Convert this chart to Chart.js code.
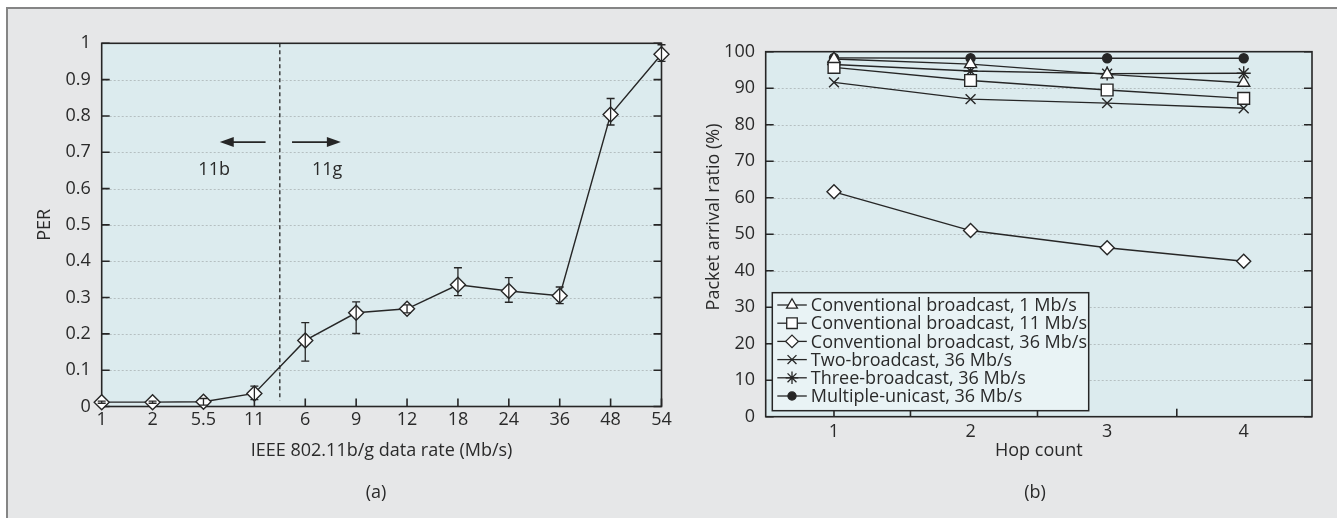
<!DOCTYPE html>
<html>
<head>
<meta charset="utf-8">
<script src="https://cdn.jsdelivr.net/npm/chart.js@4.4.0/dist/chart.umd.min.js"></script>
<style>
  html, body { margin: 0; padding: 0; background: #fff; }
  body { width: 1337px; height: 518px; position: relative; overflow: hidden; font-family: 'Open Sans', sans-serif; }
  .panel { position: absolute; left: 6px; top: 7px; right: 0; bottom: 0; background: #e6e7e8;
           border-top: 2px solid #858585; border-left: 2px solid #858585; }
  canvas { position: absolute; top: 0; }
  #perChart { left: 0; width: 700px; height: 518px; }
  #arrivalChart { left: 680px; width: 657px; height: 518px; }
  .caption { position: absolute; top: 480px; font-size: 18px; line-height: 23px; color: #2a2a2a; transform: translateX(-50%); }
</style>
</head>
<body>
<div class="panel"></div>
<canvas id="perChart" width="700" height="518"></canvas>
<canvas id="arrivalChart" width="657" height="518"></canvas>
<div class="caption" style="left:376px">(a)</div>
<div class="caption" style="left:1035px">(b)</div>
<script>
// ---- (a) PER vs data rate ----
const rateLabels = ['1', '2', '5.5', '11', '6', '9', '12', '18', '24', '36', '48', '54'];
const perValues = [0.012, 0.012, 0.013, 0.036, 0.182, 0.258, 0.269, 0.335, 0.318, 0.305, 0.804, 0.970];
const perLow    = [0.009, 0.009, 0.004, 0.019, 0.125, 0.201, 0.258, 0.305, 0.287, 0.283, 0.775, 0.950];
const perHigh   = [0.015, 0.015, 0.022, 0.056, 0.231, 0.288, 0.280, 0.382, 0.355, 0.329, 0.848, 0.996];

// divider between the 11b and 11g rates, arrows and their labels (data coords)
const splitAt = 3.5;
const arrowY = 0.728;
const arrow11b = [3.22, 2.32];
const arrow11g = [3.74, 4.70];
const noteY = 0.651;
const notes = [['11b', 2.21], ['11g', 4.43]];

// ---- (b) packet arrival ratio vs hop count ----
const hopCounts = [1, 2, 3, 4];
const hopLabels = ['1', '2', '3', '4'];
const conv1Mb   = [98.0, 96.6, 93.8, 91.5];
const conv11Mb  = [95.7, 92.1, 89.5, 87.2];
const conv36Mb  = [61.6, 51.0, 46.3, 42.6];
const twoBcast  = [91.6, 87.0, 85.9, 84.5];
const threeBcast = [96.5, 94.7, 94.0, 94.1];
const multiUni  = [98.3, 98.2, 98.2, 98.2];
const hopTickMarks = [1, 1.56, 2.49, 3.51];

const INK = '#262626';
const TEXT = '#2a2a2a';
const PLOT_BG = '#dcebee';
const LEGEND_BG = '#e9f3f5';
const GRID = '#b5bfc1';
const FONT = "18px 'Open Sans', sans-serif";

Chart.defaults.font.family = "'Open Sans', sans-serif";
Chart.defaults.font.size = 18;
Chart.defaults.color = TEXT;

const plotFrame = {
  id: 'plotFrame',
  beforeDraw(chart) {
    const { ctx, chartArea: a } = chart;
    ctx.save();
    ctx.fillStyle = PLOT_BG;
    ctx.fillRect(a.left, a.top, a.right - a.left, a.bottom - a.top);
    ctx.restore();
  },
  beforeDatasetsDraw(chart, args, opts) {
    const { ctx, chartArea: a, scales: { x, y } } = chart;
    ctx.save();
    ctx.strokeStyle = GRID;
    ctx.lineWidth = 1;
    ctx.setLineDash([2, 2]);
    y.ticks.forEach((t, i) => {
      if (i === 0 || i === y.ticks.length - 1) return;
      const py = Math.round(y.getPixelForValue(t.value)) + 0.5;
      ctx.beginPath();
      ctx.moveTo(a.left, py);
      ctx.lineTo(a.right, py);
      ctx.stroke();
    });
    ctx.setLineDash([]);
    ctx.strokeStyle = INK;
    ctx.lineWidth = 1.6;
    const len = 8;
    y.ticks.forEach(t => {
      const py = y.getPixelForValue(t.value);
      ctx.beginPath();
      ctx.moveTo(a.left, py); ctx.lineTo(a.left + len, py);
      ctx.moveTo(a.right, py); ctx.lineTo(a.right - len, py);
      ctx.stroke();
    });
    const marks = opts.xMarks ? opts.xMarks : x.ticks.map(t => t.value);
    marks.forEach(v => {
      const px = x.getPixelForValue(v);
      ctx.beginPath();
      ctx.moveTo(px, a.bottom);
      ctx.lineTo(px, a.bottom - len);
      ctx.stroke();
    });
    ctx.strokeRect(a.left, a.top, a.right - a.left, a.bottom - a.top);
    ctx.restore();
  }
};

function arrow(ctx, x1, x2, y) {
  const dir = Math.sign(x2 - x1);
  ctx.beginPath();
  ctx.moveTo(x1, y);
  ctx.lineTo(x2 - dir * 12, y);
  ctx.stroke();
  ctx.beginPath();
  ctx.moveTo(x2, y);
  ctx.lineTo(x2 - dir * 14, y - 5);
  ctx.lineTo(x2 - dir * 14, y + 5);
  ctx.closePath();
  ctx.fill();
}

const rateNotes = {
  id: 'rateNotes',
  beforeDatasetsDraw(chart) {
    const { ctx, chartArea: a, scales: { x, y } } = chart;
    ctx.save();
    ctx.strokeStyle = INK;
    ctx.fillStyle = INK;
    ctx.lineWidth = 1.3;
    ctx.setLineDash([4, 3]);
    const sx = x.getPixelForValue(splitAt);
    ctx.beginPath();
    ctx.moveTo(sx, a.top);
    ctx.lineTo(sx, a.bottom - 6);
    ctx.stroke();
    ctx.setLineDash([]);
    ctx.lineWidth = 1.6;
    const ay = y.getPixelForValue(arrowY);
    arrow(ctx, x.getPixelForValue(arrow11b[0]), x.getPixelForValue(arrow11b[1]), ay);
    arrow(ctx, x.getPixelForValue(arrow11g[0]), x.getPixelForValue(arrow11g[1]), ay);
    ctx.fillStyle = TEXT;
    ctx.font = FONT;
    ctx.textAlign = 'center';
    ctx.textBaseline = 'middle';
    notes.forEach(([t, v]) => ctx.fillText(t, x.getPixelForValue(v), y.getPixelForValue(noteY)));
    ctx.restore();
  },
  afterDatasetsDraw(chart) {
    const { ctx, scales: { x, y } } = chart;
    ctx.save();
    ctx.strokeStyle = INK;
    ctx.lineWidth = 1.3;
    perValues.forEach((v, i) => {
      const px = x.getPixelForValue(i);
      const lo = y.getPixelForValue(perLow[i]);
      const hi = y.getPixelForValue(perHigh[i]);
      ctx.beginPath();
      ctx.moveTo(px, lo); ctx.lineTo(px, hi);
      ctx.moveTo(px - 4, lo); ctx.lineTo(px + 4, lo);
      ctx.moveTo(px - 4, hi); ctx.lineTo(px + 4, hi);
      ctx.stroke();
    });
    ctx.restore();
  }
};

new Chart(document.getElementById('perChart'), {
  type: 'line',
  data: {
    labels: rateLabels,
    datasets: [{
      data: perValues,
      borderColor: INK,
      borderWidth: 1.4,
      pointStyle: 'rectRot',
      pointRadius: 7.5,
      pointBackgroundColor: '#fff',
      pointBorderColor: INK,
      pointBorderWidth: 1.4,
      tension: 0,
      clip: false
    }]
  },
  options: {
    responsive: false,
    animation: false,
    devicePixelRatio: 1,
    layout: { padding: { left: 0, top: 43.3, right: 38.5, bottom: 0 } },
    plugins: { legend: { display: false }, tooltip: { enabled: false }, plotFrame: {} },
    scales: {
      x: {
        type: 'category',
        offset: false,
        grid: { display: false, drawTicks: false },
        border: { display: false },
        ticks: { padding: 2.7, maxRotation: 0, autoSkip: false },
        title: { display: true, text: 'IEEE 802.11b/g data rate (Mb/s)', padding: { top: 0, bottom: 56.5 } },
        afterFit: s => { s.height = 111.5; }
      },
      y: {
        min: 0,
        max: 1,
        grid: { display: false, drawTicks: false },
        border: { display: false },
        ticks: { stepSize: 0.1, padding: 11, callback: v => (v === 0 || v === 1) ? String(v) : v.toFixed(1) },
        title: { display: true, text: 'PER', padding: { top: 34.2, bottom: 0 } },
        afterFit: s => { s.width = 101.7; }
      }
    }
  },
  plugins: [plotFrame, rateNotes]
});

// ---- (b) ----
const arrivalSeries = [
  { label: 'Conventional broadcast, 1 Mb/s', values: conv1Mb, style: 'triangle', r: 7, fill: '#fff' },
  { label: 'Conventional broadcast, 11 Mb/s', values: conv11Mb, style: 'rect', r: 8.3, fill: '#fff' },
  { label: 'Conventional broadcast, 36 Mb/s', values: conv36Mb, style: 'rectRot', r: 7, fill: '#fff' },
  { label: 'Two-broadcast, 36 Mb/s', values: twoBcast, style: 'crossRot', r: 7, fill: '#fff' },
  { label: 'Three-broadcast, 36 Mb/s', values: threeBcast, style: 'star', r: 7, fill: '#fff' },
  { label: 'Multiple-unicast, 36 Mb/s', values: multiUni, style: 'circle', r: 4.5, fill: INK }
];

function drawMarker(ctx, style, r, x, y) {
  if (Chart.helpers && Chart.helpers.drawPoint) {
    Chart.helpers.drawPoint(ctx, { pointStyle: style, radius: r, rotation: 0, borderWidth: 1.3 }, x, y);
  } else {
    ctx.beginPath(); ctx.arc(x, y, r, 0, Math.PI * 2); ctx.fill(); ctx.stroke();
  }
}

const arrivalExtras = {
  id: 'arrivalExtras',
  afterDraw(chart) {
    const { ctx, chartArea: a } = chart;
    ctx.save();
    // y title, placed as in the figure (above the plot's mid height)
    ctx.fillStyle = TEXT;
    ctx.font = FONT;
    ctx.textAlign = 'center';
    ctx.textBaseline = 'middle';
    ctx.translate(34, 217);
    ctx.rotate(-Math.PI / 2);
    ctx.fillText('Packet arrival ratio (%)', 0, 0);
    ctx.restore();

    // legend box with line + marker samples
    const bx = a.left + 6.6, bw = 316.4, bh = 118;
    const by = a.bottom - 6 - bh;
    ctx.save();
    ctx.fillStyle = LEGEND_BG;
    ctx.fillRect(bx, by, bw, bh);
    ctx.strokeStyle = INK;
    ctx.lineWidth = 1.5;
    ctx.strokeRect(bx, by, bw, bh);
    ctx.font = FONT;
    ctx.textBaseline = 'middle';
    ctx.textAlign = 'left';
    arrivalSeries.forEach((s, i) => {
      const ry = by + 12.3 + i * 18.2;
      ctx.strokeStyle = INK;
      ctx.lineWidth = 1.3;
      ctx.beginPath();
      ctx.moveTo(bx + 5, ry);
      ctx.lineTo(bx + 34.5, ry);
      ctx.stroke();
      ctx.fillStyle = s.fill;
      drawMarker(ctx, s.style, s.r * 0.9, bx + 19.7, ry);
      ctx.fillStyle = TEXT;
      ctx.fillText(s.label, bx + 38.5, ry + 1);
    });
    ctx.restore();
  }
};

new Chart(document.getElementById('arrivalChart'), {
  type: 'line',
  data: {
    datasets: arrivalSeries.map(s => ({
      label: s.label,
      data: hopCounts.map((h, i) => ({ x: h, y: s.values[i] })),
      borderColor: INK,
      borderWidth: 1.4,
      pointStyle: s.style,
      pointRadius: s.r,
      pointBackgroundColor: s.fill,
      pointBorderColor: INK,
      pointBorderWidth: 1.4,
      tension: 0,
      clip: false
    }))
  },
  options: {
    responsive: false,
    animation: false,
    devicePixelRatio: 1,
    layout: { padding: { left: 0, top: 51.7, right: 25, bottom: 0 } },
    plugins: { legend: { display: false }, tooltip: { enabled: false }, plotFrame: { xMarks: hopTickMarks } },
    scales: {
      x: {
        type: 'linear',
        min: 0.5,
        max: 4.5,
        grid: { display: false, drawTicks: false },
        border: { display: false },
        afterBuildTicks: s => { s.ticks = hopCounts.map(v => ({ value: v })); },
        ticks: { padding: 4.5, maxRotation: 0, callback: (v, i) => hopLabels[i] },
        title: { display: true, text: 'Hop count', padding: { top: 0, bottom: 56.5 } },
        afterFit: s => { s.height = 101.3; }
      },
      y: {
        min: 0,
        max: 100,
        grid: { display: false, drawTicks: false },
        border: { display: false },
        ticks: { stepSize: 10, padding: 10.7 },
        afterFit: s => { s.width = 85.7; }
      }
    }
  },
  plugins: [plotFrame, arrivalExtras]
});
</script>
</body>
</html>
